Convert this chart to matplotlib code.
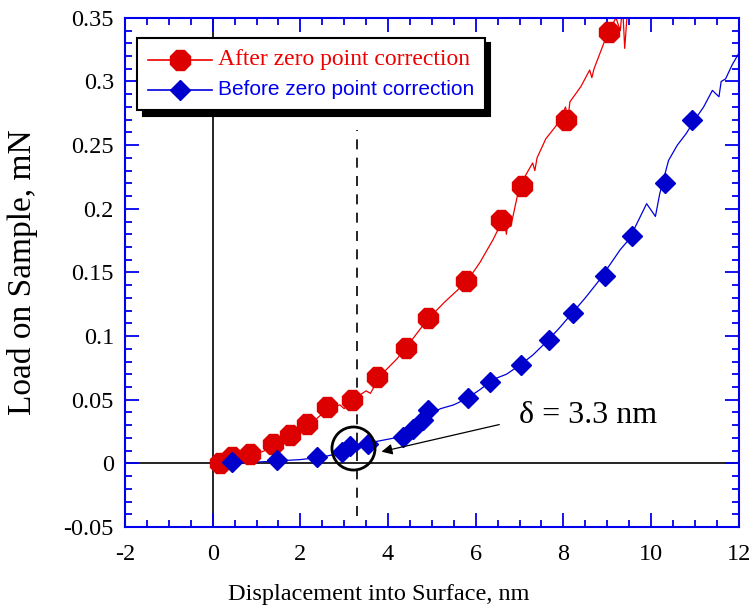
import numpy as np
import matplotlib
matplotlib.use('Agg')
import matplotlib.pyplot as plt
from matplotlib.ticker import MultipleLocator, FuncFormatter

# marqueurs - apres correction du point zero
after_x = [0.17, 0.43, 0.85, 1.38, 1.76, 2.15, 2.6, 3.17, 3.76, 4.42, 4.91, 5.78, 6.58, 7.06, 8.05, 9.03]
after_y = [0.0, 0.005, 0.007, 0.0155, 0.022, 0.031, 0.044, 0.0495, 0.068, 0.091, 0.114, 0.143, 0.191, 0.218, 0.270, 0.339]

# courbe brute (apres correction)
after_line_x = [0.1, 0.4, 0.9, 1.4, 1.8, 2.2, 2.6, 2.9, 3.0, 3.2, 3.5, 3.6, 3.8, 4.2, 4.5, 4.9, 5.3,
                5.8, 6.1, 6.4, 6.6, 6.65, 6.7, 6.75, 6.8, 7.0, 7.3, 7.35, 7.4, 7.6, 7.9, 8.05, 8.1,
                8.15, 8.4, 8.6, 8.65, 8.7, 9.0, 9.2, 9.3, 9.35, 9.4, 9.45, 9.5]
after_line_y = [-0.002, 0.003, 0.006, 0.013, 0.021, 0.03, 0.042, 0.046, 0.043, 0.05, 0.057, 0.055, 0.068, 0.082, 0.095, 0.113, 0.127,
                0.143, 0.158, 0.176, 0.19, 0.197, 0.18, 0.195, 0.186, 0.218, 0.236, 0.23, 0.24, 0.255, 0.268, 0.28, 0.27,
                0.284, 0.296, 0.309, 0.303, 0.31, 0.337, 0.35, 0.34, 0.36, 0.326, 0.35, 0.36]

# marqueurs - avant correction du point zero
before_x = [0.43, 1.47, 2.37, 2.94, 3.13, 3.55, 4.34, 4.57, 4.80, 4.91, 5.82, 6.32, 7.04, 7.67, 8.21, 8.94, 9.57, 10.32, 10.93]
before_y = [0.001, 0.0024, 0.005, 0.009, 0.014, 0.0155, 0.021, 0.027, 0.034, 0.042, 0.051, 0.064, 0.077, 0.097, 0.118, 0.147, 0.179, 0.22, 0.27]

# courbe brute (avant correction)
before_line_x = [0.3, 1.0, 1.5, 2.0, 2.5, 2.9, 3.1, 3.3, 3.5, 3.7, 4.0, 4.3, 4.6, 4.8, 5.0, 5.2, 5.5,
                 5.8, 6.1, 6.4, 6.7, 7.0, 7.3, 7.6, 7.9, 8.2, 8.5, 8.8, 9.1, 9.3, 9.5, 9.7, 9.9,
                 10.1, 10.2, 10.4, 10.6, 10.8, 11.0, 11.2, 11.4, 11.55, 11.6, 11.7, 11.85, 12.0]
before_line_y = [0.0, 0.001, 0.002, 0.003, 0.005, 0.008, 0.012, 0.01, 0.016, 0.017, 0.019, 0.021, 0.028, 0.037, 0.04, 0.043, 0.046,
                 0.051, 0.058, 0.066, 0.07, 0.077, 0.085, 0.095, 0.106, 0.118, 0.13, 0.143, 0.158, 0.168, 0.176, 0.19, 0.204,
                 0.194, 0.212, 0.238, 0.25, 0.259, 0.27, 0.28, 0.293, 0.288, 0.30, 0.302, 0.313, 0.322]

delta = 3.3

axis_blue = '#0000ee'
serif = 'Liberation Serif'

fig = plt.figure(figsize=(7.53, 6.15), dpi=100)
ax = fig.add_axes([0.166, 0.143, 0.815, 0.828])

ax.axhline(0, color='k', lw=1.2, zorder=1)
ax.axvline(0, color='k', lw=1.2, zorder=1)
ax.plot([delta, delta], [-0.041, 0.262], color='k', lw=1.2, ls=(0, (6, 5)), zorder=1)

ax.plot(after_line_x, after_line_y, color='#ee0000', lw=0.9, zorder=2)
ax.plot(after_x, after_y, ls='none', marker='8', ms=15, color='#dd0000', zorder=3)
ax.plot(before_line_x, before_line_y, color='#0000dd', lw=0.9, zorder=2)
ax.plot(before_x, before_y, ls='none', marker='D', ms=10, color='#0000cc', zorder=3)

# elements de legende
ax.plot([], [], color='#ee0000', lw=1.2, marker='8', ms=15, mfc='#dd0000', mec='#dd0000',
        label='After zero point correction')
ax.plot([], [], color='#0000dd', lw=1.2, marker='D', ms=10, mfc='#0000cc', mec='#0000cc',
        label='Before zero point correction')

# cercle autour du point zero
ax.plot([3.2], [0.012], ls='none', marker='o', ms=31, mfc='none', mec='k', mew=2, zorder=4)
ax.annotate('', xy=(3.79, 0.0087), xytext=(6.6, 0.031),
            arrowprops=dict(arrowstyle='-|>', color='k', lw=0.9, mutation_scale=16))
ax.text(6.98, 0.038, '\u03b4 = 3.3 nm', fontsize=23, family=serif, va='center', ha='left')

ax.set_xlim(-2, 12)
ax.set_ylim(-0.05, 0.35)
ax.xaxis.set_major_locator(MultipleLocator(2))
ax.xaxis.set_minor_locator(MultipleLocator(0.5))
ax.yaxis.set_major_locator(MultipleLocator(0.05))
ax.yaxis.set_minor_locator(MultipleLocator(0.01))
ax.xaxis.set_major_formatter(FuncFormatter(lambda v, p: '%g' % round(v, 3)))
ax.yaxis.set_major_formatter(FuncFormatter(lambda v, p: '%g' % round(v, 3)))

for s in ax.spines.values():
    s.set_color(axis_blue)
    s.set_linewidth(1.5)
ax.tick_params(which='both', direction='in', top=True, right=True, color=axis_blue, width=1.3)
ax.tick_params(which='major', length=10)
ax.tick_params(which='minor', length=5)
ax.tick_params(axis='x', pad=12)
ax.tick_params(axis='y', pad=8)
for lab in ax.get_xticklabels() + ax.get_yticklabels():
    lab.set_family(serif)
    lab.set_fontsize(17.5)

ax.set_xlabel('Displacement into Surface, nm', fontsize=17.5, family=serif)
ax.set_ylabel('Load on Sample, mN', fontsize=24, family=serif)
ax.xaxis.set_label_coords(0.414, -0.112)
ax.yaxis.set_label_coords(-0.142, 0.5)

leg = ax.legend(loc='upper left', bbox_to_anchor=(0.0195, 0.961), borderaxespad=0,
                numpoints=1, handlelength=4.6, fancybox=False, framealpha=1,
                shadow={'ox': 4, 'oy': -4, 'color': 'k', 'alpha': 1},
                borderpad=0.8, labelspacing=0.75, handletextpad=0.4)
leg.get_frame().set_edgecolor('k')
leg.get_frame().set_linewidth(1.5)
t_after, t_before = leg.get_texts()
t_after.set_color('#ee0000')
t_after.set_family(serif)
t_after.set_fontsize(17)
t_before.set_color('#0000ee')
t_before.set_family('Liberation Sans')
t_before.set_fontsize(15)
leg.set_zorder(5)

fig.savefig('out.png', dpi=100)
